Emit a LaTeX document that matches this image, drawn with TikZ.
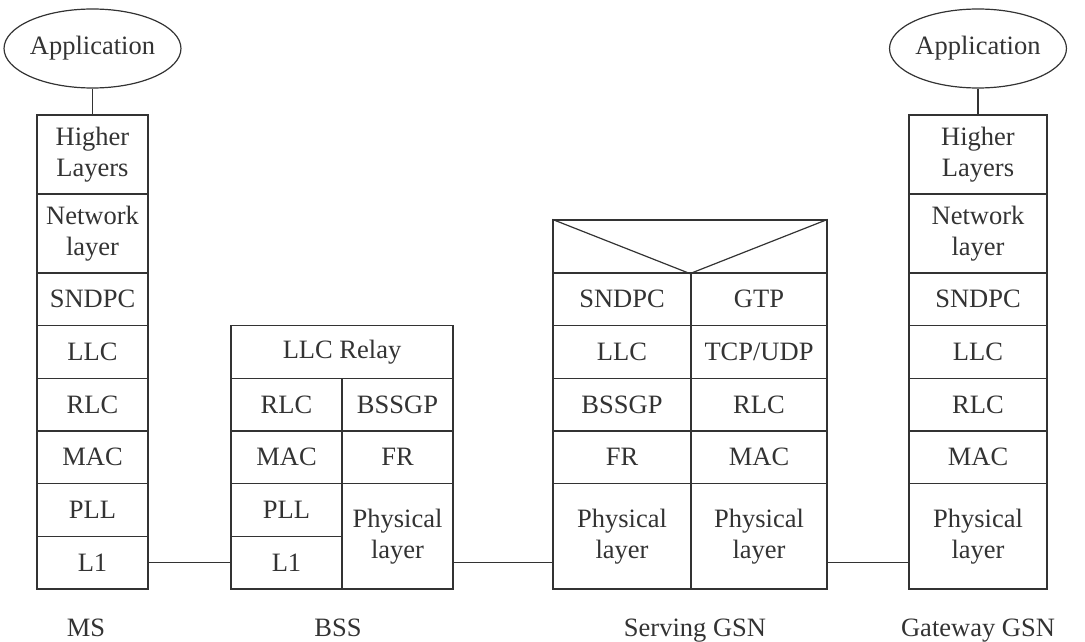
\documentclass[tikz,border=0pt]{standalone}
\usepackage{fontspec}
\setmainfont{Liberation Serif}
\usetikzlibrary{shapes.geometric}

\definecolor{ink}{HTML}{333333}
\tikzstyle{layer} = [draw=ink, rectangle, line width=1.2pt, inner sep=0pt, align=center, text=ink, font=\fontsize{26.5}{31}\selectfont]
\tikzstyle{app} = [draw=ink, ellipse, line width=1.2pt, inner sep=0pt, minimum width=167pt, minimum height=79pt, text=ink, font=\fontsize{26.5}{31}\selectfont]
\tikzstyle{station} = [anchor=base, text=ink, font=\fontsize{26.5}{31}\selectfont]
\tikzstyle{link} = [draw=ink, line width=1.2pt]

\begin{document}
\begin{tikzpicture}[x=1pt,y=-1pt]
	\useasboundingbox (0,0) rectangle (1085,642);

	% MS
	\node[app] (msApp) at (92.5,48.5) {Application};
	\node[layer, minimum width=111pt, minimum height=79pt] (msHigh) at (92.5,154.5) {Higher\\Layers};
	\node[layer, minimum width=111pt, minimum height=79pt] (msNet) at (92.5,233.5) {Network\\layer};
	\node[layer, minimum width=111pt, minimum height=52.7pt] (msSndpc) at (92.5,299.3) {SNDPC};
	\node[layer, minimum width=111pt, minimum height=52.7pt] (msLlc) at (92.5,352) {LLC};
	\node[layer, minimum width=111pt, minimum height=52.7pt] (msRlc) at (92.5,404.7) {RLC};
	\node[layer, minimum width=111pt, minimum height=52.7pt] (msMac) at (92.5,457.3) {MAC};
	\node[layer, minimum width=111pt, minimum height=52.7pt] (msPll) at (92.5,510) {PLL};
	\node[layer, minimum width=111pt, minimum height=52.7pt] (msL1) at (92.5,562.7) {L1};

	% BSS
	\node[layer, minimum width=222pt, minimum height=52.7pt] (bssRelay) at (342,352) {LLC Relay};
	\node[layer, minimum width=111pt, minimum height=52.7pt] (bssRlc) at (286.5,404.7) {RLC};
	\node[layer, minimum width=111pt, minimum height=52.7pt] (bssMac) at (286.5,457.3) {MAC};
	\node[layer, minimum width=111pt, minimum height=52.7pt] (bssPll) at (286.5,510) {PLL};
	\node[layer, minimum width=111pt, minimum height=52.7pt] (bssL1) at (286.5,562.7) {L1};
	\node[layer, minimum width=111pt, minimum height=52.7pt] (bssGp) at (397.5,404.7) {BSSGP};
	\node[layer, minimum width=111pt, minimum height=52.7pt] (bssFr) at (397.5,457.3) {FR};
	\node[layer, minimum width=111pt, minimum height=105.3pt] (bssPhy) at (397.5,536.3) {Physical\\layer};

	% Serving GSN
	\node[layer, minimum width=274pt, minimum height=53pt] (sgsnTop) at (690,246.5) {};
	\node[layer, minimum width=138pt, minimum height=52.7pt] (sgsnSndpc) at (622,299.3) {SNDPC};
	\node[layer, minimum width=138pt, minimum height=52.7pt] (sgsnLlc) at (622,352) {LLC};
	\node[layer, minimum width=138pt, minimum height=52.7pt] (sgsnGp) at (622,404.7) {BSSGP};
	\node[layer, minimum width=138pt, minimum height=52.7pt] (sgsnFr) at (622,457.3) {FR};
	\node[layer, minimum width=138pt, minimum height=105.3pt] (sgsnPhyL) at (622,536.3) {Physical\\layer};
	\node[layer, minimum width=136pt, minimum height=52.7pt] (sgsnGtp) at (759,299.3) {GTP};
	\node[layer, minimum width=136pt, minimum height=52.7pt] (sgsnTcp) at (759,352) {TCP/UDP};
	\node[layer, minimum width=136pt, minimum height=52.7pt] (sgsnRlc) at (759,404.7) {RLC};
	\node[layer, minimum width=136pt, minimum height=52.7pt] (sgsnMac) at (759,457.3) {MAC};
	\node[layer, minimum width=136pt, minimum height=105.3pt] (sgsnPhyR) at (759,536.3) {Physical\\layer};

	% Gateway GSN
	\node[app] (ggsnApp) at (978,48.5) {Application};
	\node[layer, minimum width=138pt, minimum height=79pt] (ggsnHigh) at (978,154.5) {Higher\\Layers};
	\node[layer, minimum width=138pt, minimum height=79pt] (ggsnNet) at (978,233.5) {Network\\layer};
	\node[layer, minimum width=138pt, minimum height=52.7pt] (ggsnSndpc) at (978,299.3) {SNDPC};
	\node[layer, minimum width=138pt, minimum height=52.7pt] (ggsnLlc) at (978,352) {LLC};
	\node[layer, minimum width=138pt, minimum height=52.7pt] (ggsnRlc) at (978,404.7) {RLC};
	\node[layer, minimum width=138pt, minimum height=52.7pt] (ggsnMac) at (978,457.3) {MAC};
	\node[layer, minimum width=138pt, minimum height=105.3pt] (ggsnPhy) at (978,536.3) {Physical\\layer};

	% labels
	\node[station] (msName) at (86,636) {MS};
	\node[station] (bssName) at (338,636) {BSS};
	\node[station] (sgsnName) at (695,636) {Serving GSN};
	\node[station] (ggsnName) at (978,636) {Gateway GSN};

	\draw[link] (msApp) -- (msHigh);
	\draw[link] (ggsnApp) -- (ggsnHigh);
	\draw[link] (sgsnTop.north west) -- (sgsnTop.south) -- (sgsnTop.north east);
	\draw[link] (msL1.east) -- (bssL1.west);
	\draw[link] (bssPhy.east |- bssL1) -- (sgsnPhyL.west |- bssL1);
	\draw[link] (sgsnPhyR.east |- bssL1) -- (ggsnPhy.west |- bssL1);
\end{tikzpicture}
\end{document}
